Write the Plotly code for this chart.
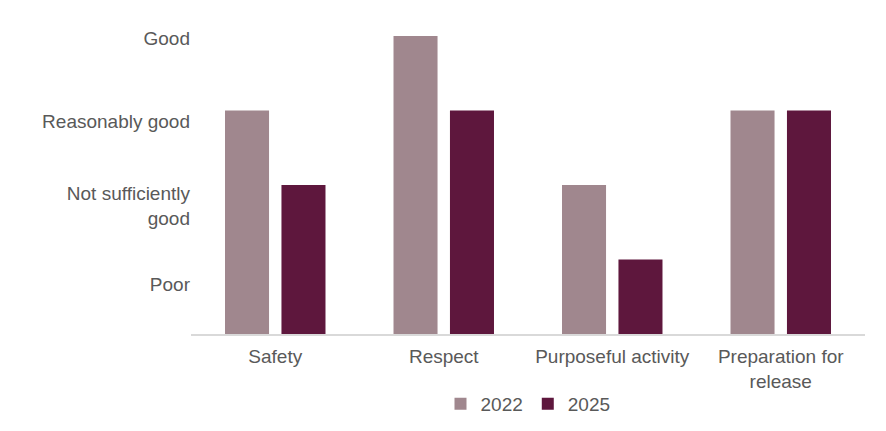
import plotly.graph_objects as go

categories = ["Safety", "Respect", "Purposeful activity", "Preparation for<br>release"]
series_names = ["2022", "2025"]
values_2022 = [3, 4, 2, 3]
values_2025 = [2, 3, 1, 3]
tick_labels = ["Poor", "Not sufficiently<br>good", "Reasonably good", "Good"]
tick_positions = [0.66, 1.72, 2.86, 3.97]

colors = ["#A0878E", "#5E173D"]
font = dict(family="Liberation Sans, Arial, sans-serif", size=19, color="#595959")

fig = go.Figure()
for name, vals, c in zip(series_names, [values_2022, values_2025], colors):
    fig.add_trace(go.Bar(x=categories, y=vals, name=name, marker=dict(color=c, line=dict(width=0))))

fig.update_layout(
    width=886, height=431,
    margin=dict(l=191, r=21, t=36, b=97, autoexpand=False),
    paper_bgcolor="white", plot_bgcolor="white",
    font=font,
    barmode="group", bargap=0.33, bargroupgap=0.22,
    showlegend=True,
    legend=dict(orientation="h", x=0.5, xanchor="center", y=0.0626, yref="container",
                yanchor="middle", font=font, itemwidth=30, tracegroupgap=0),
)
fig.update_xaxes(showline=True, linecolor="#D9D9D9", linewidth=2, ticks="", showgrid=False,
                 tickfont=font, automargin=False, ticklabelstandoff=4)
fig.update_yaxes(range=[0, 4], showline=False, showgrid=False, zeroline=False, ticks="",
                 tickvals=tick_positions, ticktext=tick_labels, tickfont=font, automargin=False)

fig.write_html("out.html")
